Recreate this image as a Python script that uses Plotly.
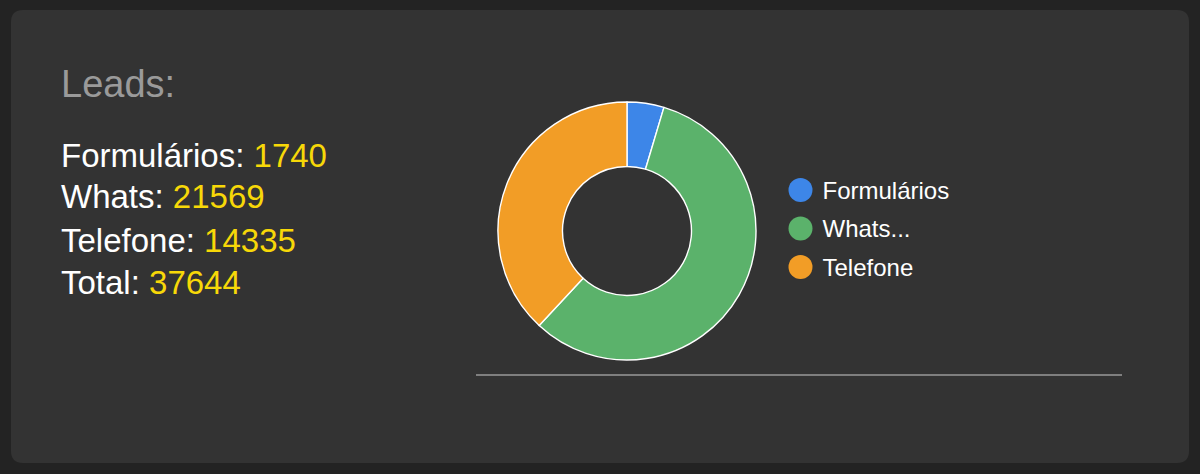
import plotly.graph_objects as go

# ---- data ----
categories = ["Formulários", "Whats", "Telefone"]
legend_labels = ["Formulários", "Whats...", "Telefone"]
values = [1740, 21569, 14335]
colors = ["#3d86e8", "#5bb26b", "#f29d26"]
title_text = "Leads:"
total_label = "Total"

W, H = 1200, 474
FONT = "Liberation Sans, Arial, sans-serif"


def px(x):
    return x / W


def py(y):
    return 1 - y / H


fig = go.Figure()

# donut
cx, cy, r = 627, 231, 129
fig.add_trace(go.Pie(
    labels=legend_labels,
    values=values,
    marker=dict(colors=colors, line=dict(color="#ffffff", width=1.4)),
    hole=0.5,
    sort=False,
    direction="clockwise",
    rotation=0,
    textinfo="none",
    hoverinfo="label+value+percent",
    showlegend=False,
    domain=dict(x=[px(cx - r), px(cx + r)], y=[py(cy + r), py(cy - r)]),
))

# legend replica: markers and labels on their own axes
idx = list(range(len(legend_labels)))
fig.add_trace(go.Scatter(
    x=[0] * len(legend_labels), y=idx, mode="markers",
    marker=dict(size=24, color=colors, symbol="circle", line=dict(width=0)),
    cliponaxis=False, showlegend=False, hoverinfo="skip",
    xaxis="x2", yaxis="y2",
))
fig.add_trace(go.Scatter(
    x=[1.1] * len(legend_labels), y=[i + 0.07 for i in idx], mode="text",
    text=legend_labels, textposition="middle right",
    textfont=dict(family=FONT, size=24, color="#ffffff"),
    cliponaxis=False, showlegend=False, hoverinfo="skip",
    xaxis="x2", yaxis="y2",
))

# card background with rounded corners
x0, y0, x1, y1, rad = 11, 10, 1189, 463, 12
path = (
    f"M {px(x0 + rad)} {py(y0)} L {px(x1 - rad)} {py(y0)} "
    f"Q {px(x1)} {py(y0)} {px(x1)} {py(y0 + rad)} "
    f"L {px(x1)} {py(y1 - rad)} "
    f"Q {px(x1)} {py(y1)} {px(x1 - rad)} {py(y1)} "
    f"L {px(x0 + rad)} {py(y1)} "
    f"Q {px(x0)} {py(y1)} {px(x0)} {py(y1 - rad)} "
    f"L {px(x0)} {py(y0 + rad)} "
    f"Q {px(x0)} {py(y0)} {px(x0 + rad)} {py(y0)} Z"
)
shapes = [
    dict(type="path", xref="paper", yref="paper", path=path,
         fillcolor="#333333", line=dict(width=0), layer="below"),
    dict(type="line", xref="paper", yref="paper",
         x0=px(476), x1=px(1122), y0=py(375), y1=py(375),
         line=dict(color="#9a9a9a", width=1.5), layer="below"),
]

# left text block
annotations = [dict(
    x=px(59), y=py(84), xref="paper", yref="paper",
    xanchor="left", yanchor="middle", showarrow=False,
    text=title_text, font=dict(family=FONT, size=38, color="#9a9a9a"),
)]
rows = list(zip(categories, values)) + [(total_label, sum(values))]
row_y = [155, 197, 240, 282]
for (name, val), yy in zip(rows, row_y):
    annotations.append(dict(
        x=px(59), y=py(yy), xref="paper", yref="paper",
        xanchor="left", yanchor="middle", showarrow=False,
        text=f"{name}: <span style='color:#f7d808'>{val}</span>",
        font=dict(family=FONT, size=33, color="#ffffff"),
    ))

fig.update_layout(
    width=W, height=H,
    margin=dict(l=0, r=0, t=0, b=0),
    paper_bgcolor="#232323",
    plot_bgcolor="rgba(0,0,0,0)",
    shapes=shapes,
    annotations=annotations,
    xaxis2=dict(domain=[px(780.5), px(980.5)], range=[-1, 9], visible=False,
                fixedrange=True, anchor="y2"),
    yaxis2=dict(domain=[py(286.25), py(170.75)], range=[2.5, -0.5], visible=False,
                fixedrange=True, anchor="x2"),
    xaxis=dict(visible=False),
    yaxis=dict(visible=False),
)

fig.write_html(
    "out.html",
    config={"displayModeBar": False},
    post_script="document.body.style.margin='0';document.body.style.background='#232323';document.body.style.overflow='hidden';",
)
